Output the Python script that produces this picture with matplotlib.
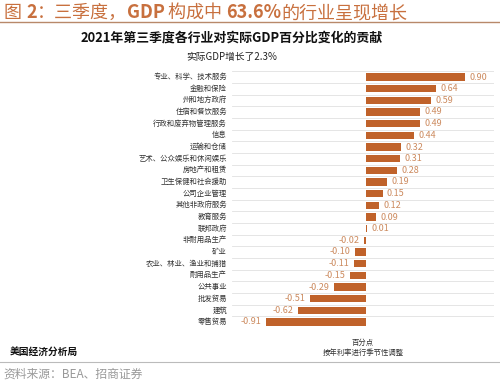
import matplotlib
matplotlib.use("Agg")
import matplotlib.pyplot as plt
from matplotlib.text import Annotation

plt.rcParams['font.family'] = ['Noto Sans CJK SC', 'DejaVu Sans']

categories = ['专业、科学、技术服务', '金融和保险', '州和地方政府', '住宿和餐饮服务',
              '行政和废弃物管理服务', '信息', '运输和仓储', '艺术、公众娱乐和休闲娱乐',
              '房地产和租赁', '卫生保健和社会援助', '公司企业管理', '其他非政府服务',
              '教育服务', '联邦政府', '非耐用品生产', '矿业', '农业、林业、渔业和捕猎',
              '耐用品生产', '公共事业', '批发贸易', '建筑', '零售贸易']
values = [0.90, 0.64, 0.59, 0.49, 0.49, 0.44, 0.32, 0.31, 0.28, 0.19, 0.15, 0.12,
          0.09, 0.01, -0.02, -0.10, -0.11, -0.15, -0.29, -0.51, -0.62, -0.91]
value_labels = ['%.2f' % v for v in values]

W, H = 500, 383
fig = plt.figure(figsize=(5, 3.83), dpi=100)

def fx(px):
    return px / W

def fy(py):
    return 1 - py / H

n = len(categories)
top_c, bot_c = 77, 322
step = (bot_c - top_c) / (n - 1)
ax_left, ax_right = 232, 494
zero_px, unit_px = 366, 110
ax_top, ax_bot = top_c - step / 2, bot_c + step / 2

ax = fig.add_axes([fx(ax_left), fy(ax_bot), fx(ax_right - ax_left), (ax_bot - ax_top) / H])
ax.set_xlim((ax_left - zero_px) / unit_px, (ax_right - zero_px) / unit_px)
ax.set_ylim(n - 0.5, -0.5)
ax.axis('off')

ypos = list(range(n))
ax.barh(ypos, values, height=0.62, color='#c0622a')
for i in range(n + 1):
    ax.axhline(i - 0.5, color='#e0e0e0', lw=0.6, zorder=0)

for y, v, lab in zip(ypos, values, value_labels):
    if v >= 0:
        ax.text(v + 0.04, y, lab, ha='left', va='center', fontsize=6.5, color='#cc8a5e')
    else:
        ax.text(v - 0.04, y, lab, ha='right', va='center', fontsize=6.5, color='#cc8a5e')
    ax.text((227 - zero_px) / unit_px, y, categories[y], ha='right', va='center',
            fontsize=5.3, color='#333333')

# headline, mixed weights: each piece starts where the previous one ends
head_parts = [('图 ', 'normal'), ('2', 'bold'), ('：三季度，', 'normal'), ('GDP', 'bold'),
              (' 构成中 ', 'normal'), ('63.6%', 'bold'), ('的行业呈现增长', 'normal')]
prev = fig.text(fx(4), fy(18), head_parts[0][0], fontsize=13, color='#c8703e',
                ha='left', va='baseline', fontweight=head_parts[0][1])
for txt, wt in head_parts[1:]:
    prev = fig.add_artist(Annotation(txt, xy=(1, 0), xycoords=prev, fontsize=13,
                                     color='#c8703e', ha='left', va='bottom', fontweight=wt))

fig.add_artist(plt.Line2D([0, 1], [fy(22), fy(22)], color='#b8896a', lw=1.0))
fig.text(fx(232), fy(38), '2021年第三季度各行业对实际GDP百分比变化的贡献', fontsize=9.3,
         fontweight='bold', ha='center', va='center', color='#111111')
fig.text(fx(232), fy(57), '实际GDP增长了2.3%', fontsize=7, ha='center', va='center', color='#222222')

fig.text(fx(10), fy(352), '美国经济分析局', fontsize=7, fontweight='bold', ha='left', va='center',
         color='#111111')
fig.text(fx(363), fy(343), '百分点', fontsize=5.3, ha='center', va='center', color='#333333')
fig.text(fx(363), fy(353), '按年利率进行季节性调整', fontsize=5.3, ha='center', va='center',
         color='#333333')
fig.add_artist(plt.Line2D([0, 1], [fy(362), fy(362)], color='#bbbbbb', lw=0.8))
fig.text(fx(3), fy(374), '资料来源：BEA、招商证券', fontsize=8.5, ha='left', va='center',
         color='#999999')

fig.savefig('out.png', dpi=100)
